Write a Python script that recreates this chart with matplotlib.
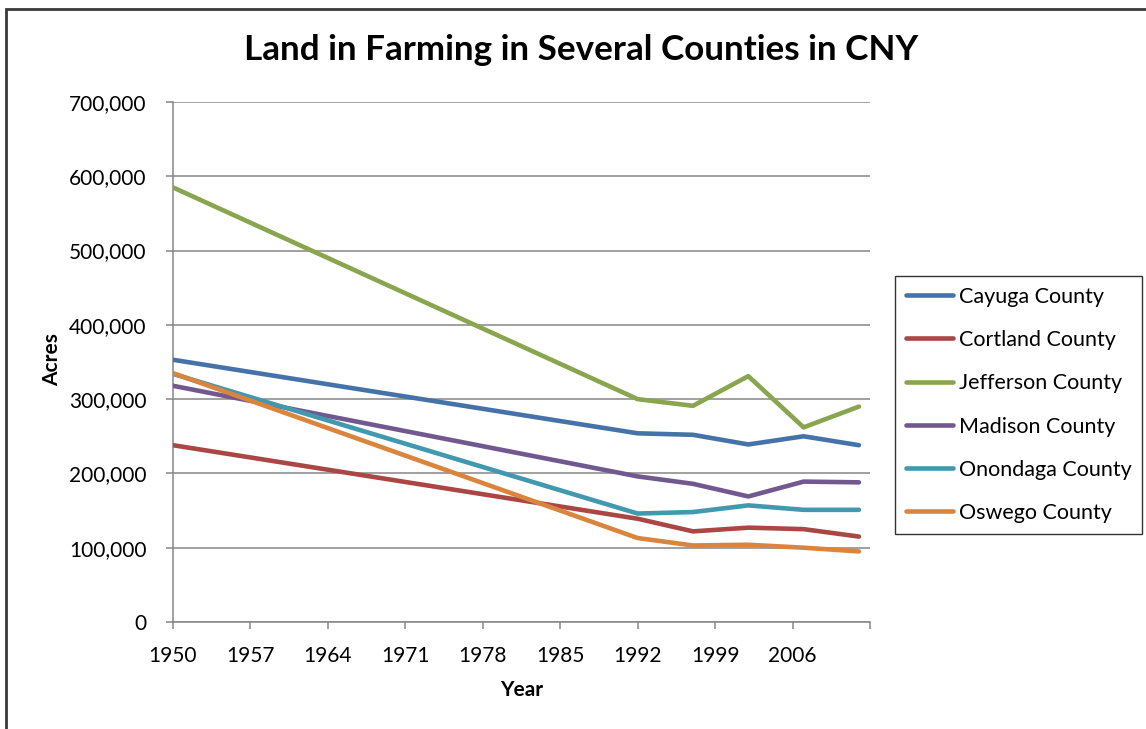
import matplotlib
matplotlib.use("Agg")
import matplotlib.pyplot as plt
from matplotlib.patches import Rectangle
from matplotlib.ticker import FuncFormatter, FixedLocator

# Census years and farmland acreage per county
years = [1950, 1992, 1997, 2002, 2007, 2012]
counties = ["Cayuga County", "Cortland County", "Jefferson County",
            "Madison County", "Onondaga County", "Oswego County"]
cayuga = [353000, 254000, 252000, 239000, 250000, 238000]
cortland = [238000, 139000, 122000, 127000, 125000, 115000]
jefferson = [585000, 300000, 291000, 331000, 262000, 290000]
madison = [318000, 196000, 186000, 169000, 189000, 188000]
onondaga = [334000, 146000, 148000, 157000, 151000, 151000]
oswego = [335000, 113000, 103000, 104000, 100000, 95000]
series = [cayuga, cortland, jefferson, madison, onondaga, oswego]
colors = ["#4572A8", "#AA4643", "#89A54E", "#71588F", "#4198AF", "#DB843D"]

x_ticks = [1950, 1957, 1964, 1971, 1978, 1985, 1992, 1999, 2006, 2013]
x_labels = ["1950", "1957", "1964", "1971", "1978", "1985", "1992", "1999", "2006", ""]
y_ticks = [0, 100000, 200000, 300000, 400000, 500000, 600000, 700000]

FONT = "Lato"
W, H = 1146, 729
fig = plt.figure(figsize=(W / 100, H / 100), dpi=100)
fig.patch.set_facecolor("white")

ax = fig.add_axes([173 / W, 1 - 622 / H, (870 - 173) / W, (622 - 102) / H])

for vals, col, name in zip(series, colors, counties):
    ax.plot(years, vals, color=col, lw=3.3, solid_capstyle="round",
            solid_joinstyle="round", label=name, zorder=3)

ax.set_xlim(1950, 2013)
ax.set_ylim(0, 700000)
ax.xaxis.set_major_locator(FixedLocator(x_ticks))
ax.set_xticklabels(x_labels)
ax.yaxis.set_major_locator(FixedLocator(y_ticks))
ax.yaxis.set_major_formatter(FuncFormatter(lambda v, p: f"{int(v):,}"))

grid_col = "#868686"
ax.grid(axis="y", color=grid_col, lw=1.1, zorder=0)
ax.set_axisbelow(True)
for s in ["top", "right"]:
    ax.spines[s].set_visible(False)
for s in ["left", "bottom"]:
    ax.spines[s].set_color(grid_col)
    ax.spines[s].set_linewidth(1.1)
ax.tick_params(axis="both", direction="out", length=5, width=1.1, color=grid_col,
               labelsize=15, labelcolor="black")
ax.tick_params(axis="y", pad=14)
ax.tick_params(axis="x", pad=12)
for lbl in ax.get_xticklabels() + ax.get_yticklabels():
    lbl.set_fontfamily(FONT)

fig.text(581 / W, 1 - 50 / H, "Land in Farming in Several Counties in CNY",
         ha="center", va="center", fontsize=25.2, fontweight="bold", family=FONT)
fig.text(52 / W, 1 - 360 / H, "Acres", ha="center", va="center", rotation=90,
         fontsize=15, fontweight="bold", family=FONT)
fig.text(522 / W, 1 - 690 / H, "Year", ha="center", va="center",
         fontsize=15, fontweight="bold", family=FONT)

leg = ax.legend(loc="upper left", bbox_to_anchor=(895 / W, 1 - 276 / H),
                bbox_transform=fig.transFigure, frameon=True, fancybox=False,
                edgecolor="black", handlelength=2.2, handletextpad=0.25,
                labelspacing=1.08, borderpad=0.5, borderaxespad=0,
                prop={"family": FONT, "size": 15.5})
leg.get_frame().set_linewidth(1.0)

# Outer chart border
fig.add_artist(Rectangle((5.5 / W, -0.1), 1.2, 1.1 - 8.5 / H, transform=fig.transFigure,
                         fill=False, edgecolor="#3a3a3a", lw=2.0, clip_on=False))

fig.savefig("out.png", dpi=100, facecolor="white")
